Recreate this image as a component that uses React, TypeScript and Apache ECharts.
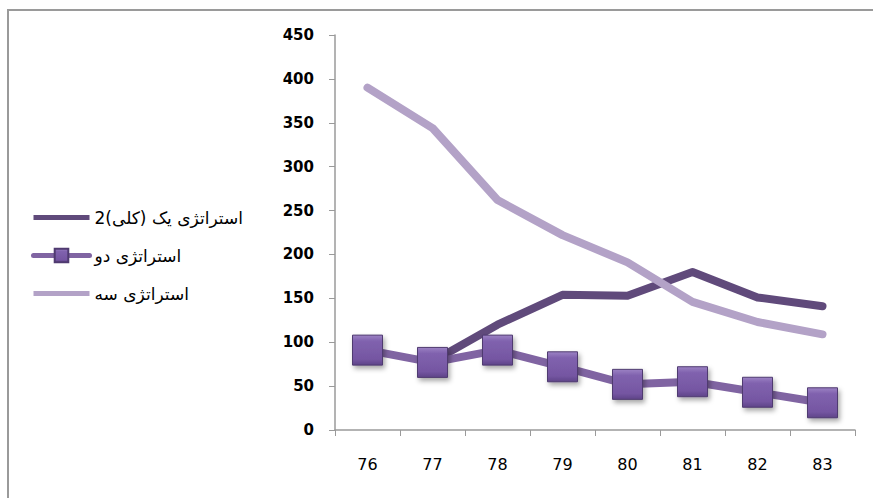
import React, { useEffect, useRef } from "react";
import * as echarts from "echarts";

const categories = ["76", "77", "78", "79", "80", "81", "82", "83"];
const seriesNames = ["استراتژی یک (کلی)2", "استراتژی دو", "استراتژی سه"];
const seriesOne = [null, 78, 120, 154, 153, 180, 151, 141];
const seriesTwo = [91, 77, 91, 72, 52, 55, 43, 31];
const seriesThree = [390, 344, 262, 222, 191, 146, 123, 109];

const lineIcon = "path://M0,0H56V5H0Z";

export default function App() {
  const ref = useRef<HTMLDivElement>(null);
  useEffect(() => {
    if (!ref.current) return;
    const chart = echarts.init(ref.current, null, { renderer: "svg" });
    chart.setOption({
      animation: false,
      backgroundColor: "#ffffff",
      graphic: [
        {
          type: "rect",
          shape: { x: 8, y: 10, width: 900, height: 520 },
          style: { fill: "none", stroke: "#9a9a9a", lineWidth: 2 },
          z: 0,
        },
      ],
      grid: { left: 335, right: 18, top: 35, bottom: 68 },
      legend: {
        orient: "vertical",
        left: 26,
        top: 204,
        itemGap: 21,
        itemWidth: 56,
        itemHeight: 17,
        textStyle: { fontFamily: "DejaVu Sans", fontSize: 17, color: "#000" },
        data: [
          { name: seriesNames[0], icon: lineIcon },
          { name: seriesNames[1], lineStyle: { width: 5 } },
          { name: seriesNames[2], icon: lineIcon },
        ],
      },
      xAxis: {
        type: "category",
        data: categories,
        boundaryGap: true,
        axisLine: { lineStyle: { color: "#9a9a9a", width: 1.5 } },
        axisTick: { show: true, length: 6, lineStyle: { color: "#9a9a9a" } },
        axisLabel: { margin: 26, fontSize: 16, color: "#000", fontFamily: "DejaVu Sans" },
        splitLine: { show: false },
      },
      yAxis: {
        type: "value",
        min: 0,
        max: 450,
        interval: 50,
        axisLine: { show: true, lineStyle: { color: "#9a9a9a", width: 1.5 } },
        axisTick: { show: true, length: 6, lineStyle: { color: "#9a9a9a" } },
        axisLabel: { margin: 21, fontSize: 15, fontWeight: "bold", color: "#000", fontFamily: "DejaVu Sans" },
        splitLine: { show: false },
      },
      series: [
        {
          name: seriesNames[0],
          type: "line",
          data: seriesOne,
          symbol: "none",
          lineStyle: { color: "#604A7B", width: 8, cap: "round", join: "round" },
          itemStyle: { color: "#604A7B" },
          z: 2,
        },
        {
          name: seriesNames[1],
          type: "line",
          data: seriesTwo,
          symbol: "rect",
          symbolSize: 30,
          lineStyle: { color: "#8064A2", width: 8, cap: "round", join: "round" },
          itemStyle: {
            color: new echarts.graphic.LinearGradient(0, 0, 0, 1, [
              { offset: 0, color: "#9C82C4" },
              { offset: 0.2, color: "#8062AE" },
              { offset: 0.8, color: "#7556A2" },
              { offset: 1, color: "#5E4488" },
            ]),
            borderColor: "#4F3A70",
            borderWidth: 1,
            shadowColor: "rgba(0,0,0,0.35)",
            shadowBlur: 5,
            shadowOffsetX: 2,
            shadowOffsetY: 3,
          },
          z: 3,
        },
        {
          name: seriesNames[2],
          type: "line",
          data: seriesThree,
          symbol: "none",
          lineStyle: { color: "#B3A2C7", width: 8, cap: "round", join: "round" },
          itemStyle: { color: "#B3A2C7" },
          z: 4,
        },
      ],
    });
    return () => chart.dispose();
  }, []);
  return <div ref={ref} style={{ width: 873, height: 498, position: "absolute", left: 0, top: 0 }} />;
}
